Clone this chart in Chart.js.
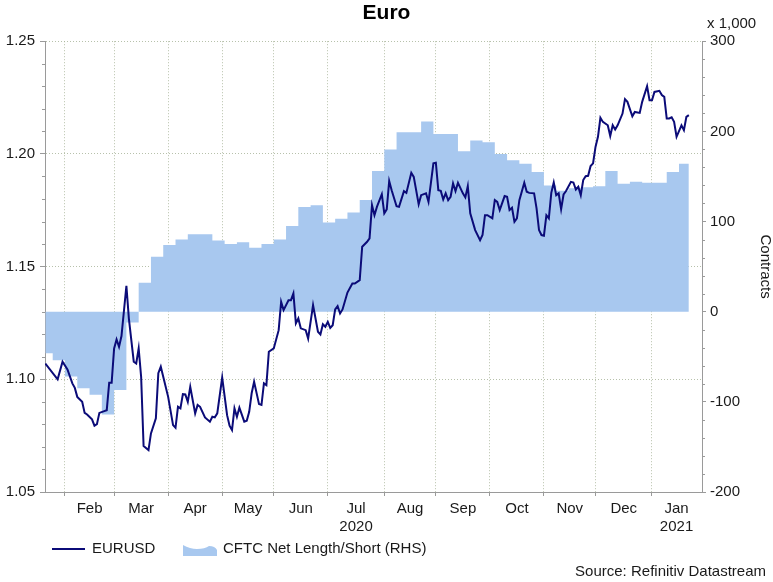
<!DOCTYPE html>
<html>
<head>
<meta charset="utf-8">
<script src="https://cdn.jsdelivr.net/npm/chart.js@4.4.1/dist/chart.umd.min.js"></script>
<style>
html,body{margin:0;padding:0;background:#fff;}
#wrap{position:relative;width:773px;height:582px;}
</style>
</head>
<body>
<div id="wrap"><canvas id="c" width="773" height="582"></canvas></div>
<script>
// x values are trading-day numbers counted from Monday 20 Jan 2020 (= 0)
const eurDay = [2,7,9,11,13,14,15,17,18,19,21,22,23,24,26,27,28,29,30,31,32,33,35,36,38,39,40,41,42,44,45,47,48,49,50,52,54,55,56,57,58,59,60,61,63,64,65,67,69,70,71,72,74,76,77,78,79,80,81,83,84,85,86,87,89,90,91,92,93,95,97,98,99,101,102,103,104,105,106,108,109,111,113,114,115,116,117,118,119,120,121,122,123,125,127,128,130,131,133,134,135,136,137,139,140,141,142,143,145,146,148,149,151,152,154,155,157,158,160,161,162,163,164,165,166,167,168,169,170,172,173,174,175,177,179,180,181,182,184,185,186,187,189,190,191,192,193,194,195,197,198,199,201,202,203,204,205,206,207,208,209,210,211,212,213,214,216,217,218,219,220,221,222,223,224,225,226,227,228,229,231,232,233,234,235,237,238,239,241,242,244,245,247,248,249,250,252,253,254,255,256,257,258,259,261,262,263,264];
const eurUsd = [1.1070,1.1000,1.1078,1.1044,1.0982,1.0962,1.0922,1.0900,1.0851,1.0844,1.0822,1.0794,1.0801,1.0851,1.0859,1.0863,1.0985,1.0985,1.1137,1.1177,1.1144,1.1192,1.1415,1.1270,1.1078,1.1070,1.1137,1.1011,1.0704,1.0686,1.0760,1.0827,1.1027,1.1056,1.1011,1.0922,1.0797,1.0785,1.0878,1.0871,1.0934,1.0933,1.0900,1.0967,1.0849,1.0886,1.0878,1.0831,1.0812,1.0834,1.0831,1.0849,1.1008,1.0841,1.0794,1.0775,1.0871,1.0834,1.0874,1.0812,1.0816,1.0856,1.0938,1.0989,1.0890,1.0886,1.0982,1.0974,1.1122,1.1137,1.1218,1.1344,1.1307,1.1351,1.1351,1.1381,1.1248,1.1270,1.1226,1.1218,1.1181,1.1329,1.1211,1.1199,1.1244,1.1233,1.1255,1.1228,1.1240,1.1310,1.1325,1.1292,1.1310,1.1385,1.1425,1.1425,1.1440,1.1588,1.1610,1.1625,1.1773,1.1728,1.1765,1.1821,1.1736,1.1754,1.1880,1.1839,1.1768,1.1765,1.1835,1.1827,1.1916,1.1898,1.1777,1.1817,1.1825,1.1787,1.1958,1.1961,1.1839,1.1836,1.1798,1.1825,1.1795,1.1810,1.1869,1.1835,1.1872,1.1825,1.1807,1.1857,1.1736,1.1662,1.1617,1.1640,1.1728,1.1728,1.1714,1.1795,1.1787,1.1751,1.1813,1.1810,1.1751,1.1761,1.1699,1.1714,1.1795,1.1872,1.1832,1.1827,1.1825,1.1758,1.1662,1.1640,1.1637,1.1728,1.1714,1.1827,1.1873,1.1817,1.1825,1.1755,1.1820,1.1835,1.1876,1.1873,1.1842,1.1854,1.1817,1.1884,1.1901,1.1903,1.1946,1.1958,1.2031,1.2076,1.2160,1.2142,1.2127,1.2079,1.2127,1.2108,1.2127,1.2179,1.2243,1.2231,1.2167,1.2186,1.2182,1.2231,1.2300,1.2238,1.2238,1.2275,1.2280,1.2261,1.2253,1.2157,1.2157,1.2162,1.2142,1.2076,1.2127,1.2105,1.2164,1.2172];
// CFTC net length/short, thousands of contracts (weekly steps)
const cftcDay = [2,5,10,15,20,25,30,35,40,45,50,55,60,65,70,75,80,85,90,95,100,105,110,115,120,125,130,135,140,145,150,155,160,165,170,175,180,185,190,195,200,205,210,215,220,225,230,235,240,245,250,255,260,264];
const cftcNet = [-46,-54,-72,-85,-92,-114,-87,-12,32,61,74,80,86,86,79,75,77,71,75,80,95,116,118,99,103,110,124,156,180,199,199,211,197,197,178,190,188,175,168,164,155,140,134,137,138,139,156,142,144,143,143,155,164,164];
// first trading day of each month (Feb 2020 ... Feb 2021)
const monthStartDay = [10,30,52,74,95,117,140,161,183,205,226,249,269];
const monthLabels = ['Feb','Mar','Apr','May','Jun','Jul','Aug','Sep','Oct','Nov','Dec','Jan'];
const yearLabels = ['','','','','','2020','','','','','','2021'];
const leftTicks = [1.05,1.10,1.15,1.20,1.25];
const rightTicks = [-200,-100,0,100,200,300];
const seriesNames = ['EURUSD','CFTC Net Length/Short (RHS)'];

const FONT = "'Liberation Sans', Arial, Helvetica, sans-serif";
const TXT = '#1a1a1a';
const AXIS = '#9a9a9a';
const GRID = 'rgba(165,178,150,0.8)';

const boundaryTicks = monthStartDay.slice(0, 12);
const labelTicks = [];
const labelMap = {};
for (let i = 0; i < 12; i++) {
  const v = (monthStartDay[i] + monthStartDay[i + 1]) / 2;
  labelTicks.push(v);
  labelMap[v] = yearLabels[i] ? [monthLabels[i], yearLabels[i]] : monthLabels[i];
}
const isBoundary = v => boundaryTicks.indexOf(v) >= 0;

Chart.defaults.font.family = FONT;
Chart.defaults.font.size = 15;
Chart.defaults.color = TXT;

const extras = {
  id: 'extras',
  afterDraw(chart) {
    const ctx = chart.ctx;
    const ya = chart.scales.y, yb = chart.scales.y1;
    const area = chart.chartArea;
    ctx.save();
    // minor ticks
    ctx.strokeStyle = AXIS; ctx.lineWidth = 1;
    ctx.beginPath();
    for (let k = 106; k < 125; k++) {
      if (k % 5 === 0) continue;
      const py = Math.round(ya.getPixelForValue(k / 100)) + 0.5;
      ctx.moveTo(area.left - 3, py); ctx.lineTo(area.left, py);
    }
    for (let k = -180; k < 300; k += 20) {
      if (k % 100 === 0) continue;
      const py = Math.round(yb.getPixelForValue(k)) + 0.5;
      ctx.moveTo(area.right, py); ctx.lineTo(area.right + 3, py);
    }
    ctx.stroke();
    // scale factor label
    ctx.fillStyle = TXT;
    ctx.font = '15px ' + FONT;
    ctx.textBaseline = 'middle';
    ctx.textAlign = 'left';
    ctx.fillText('x 1,000', 707, 24);
    // legend
    const ds0 = chart.data.datasets[0], ds1 = chart.data.datasets[1];
    const ly = 549;
    ctx.strokeStyle = ds0.borderColor; ctx.lineWidth = 2;
    ctx.beginPath(); ctx.moveTo(52, ly); ctx.lineTo(85, ly); ctx.stroke();
    ctx.fillText(ds0.label, 92, ly);
    ctx.fillStyle = ds1.backgroundColor;
    ctx.beginPath();
    ctx.moveTo(183, ly + 7); ctx.lineTo(183, ly - 4);
    ctx.quadraticCurveTo(190, ly, 197, ly);
    ctx.quadraticCurveTo(205, ly, 209, ly - 3);
    ctx.quadraticCurveTo(215, ly - 3, 217, ly + 1);
    ctx.lineTo(217, ly + 7); ctx.closePath(); ctx.fill();
    ctx.fillStyle = TXT;
    ctx.fillText(ds1.label, 223, ly);
    // source
    ctx.textAlign = 'right';
    ctx.fillText('Source: Refinitiv Datastream', 766, 572);
    ctx.restore();
  }
};

new Chart(document.getElementById('c'), {
  type: 'line',
  data: {
    datasets: [
      {
        label: seriesNames[0],
        data: eurDay.map((d, i) => ({x: d, y: eurUsd[i]})),
        borderColor: '#0b0b78',
        borderWidth: 2,
        pointRadius: 0,
        tension: 0,
        fill: false,
        yAxisID: 'y'
      },
      {
        label: seriesNames[1],
        data: cftcDay.map((d, i) => ({x: d, y: cftcNet[i]})),
        stepped: true,
        fill: 'origin',
        backgroundColor: '#a8c8ef',
        borderColor: 'rgba(0,0,0,0)',
        borderWidth: 0,
        pointRadius: 0,
        yAxisID: 'y1'
      }
    ]
  },
  options: {
    responsive: false,
    devicePixelRatio: 1,
    animation: false,
    layout: {padding: 0},
    plugins: {
      legend: {display: false},
      tooltip: {enabled: false},
      title: {
        display: true,
        text: 'Euro',
        color: '#000',
        font: {size: 21, weight: 'bold'},
        padding: {top: 1, bottom: 15}
      }
    },
    scales: {
      x: {
        type: 'linear',
        position: 'bottom',
        min: 1.86,
        max: 269.36,
        afterBuildTicks: ax => { ax.ticks = boundaryTicks.concat(labelTicks).sort((a, b) => a - b).map(v => ({value: v})); },
        afterFit: ax => { ax.height = 90; },
        ticks: {
          autoSkip: false, maxRotation: 0, minRotation: 0, padding: 4, color: TXT,
          font: {size: 15},
          callback: v => (labelMap[v] !== undefined ? labelMap[v] : '')
        },
        grid: {
          color: c => (c.tick && isBoundary(c.tick.value) ? GRID : 'rgba(0,0,0,0)'),
          tickColor: c => (c.tick && isBoundary(c.tick.value) ? AXIS : 'rgba(0,0,0,0)'),
          tickLength: 4,
          lineWidth: 1
        },
        border: {display: true, color: AXIS, width: 1, dash: [1, 2]}
      },
      y: {
        type: 'linear',
        position: 'left',
        min: 1.05,
        max: 1.25,
        afterBuildTicks: ax => { ax.ticks = leftTicks.map(v => ({value: v})); },
        afterFit: ax => { ax.width = 45; },
        ticks: {padding: 5, color: TXT, font: {size: 15}, callback: v => Number(v).toFixed(2)},
        grid: {
          color: c => (c.tick && c.tick.value > 1.0501 ? GRID : 'rgba(0,0,0,0)'),
          tickColor: AXIS,
          tickLength: 5
        },
        border: {display: true, color: AXIS, width: 1, dash: [1, 2]}
      },
      y1: {
        type: 'linear',
        position: 'right',
        min: -200,
        max: 300,
        afterBuildTicks: ax => { ax.ticks = rightTicks.map(v => ({value: v})); },
        afterFit: ax => { ax.width = 71; },
        ticks: {padding: 4, color: TXT, font: {size: 15}, callback: v => String(v)},
        grid: {drawOnChartArea: false, tickColor: AXIS, tickLength: 4},
        border: {display: true, color: AXIS, width: 1},
        title: {display: true, text: 'Contracts', color: TXT, font: {size: 15, lineHeight: 1}, padding: 0}
      }
    }
  },
  plugins: [extras]
});
</script>
</body>
</html>
